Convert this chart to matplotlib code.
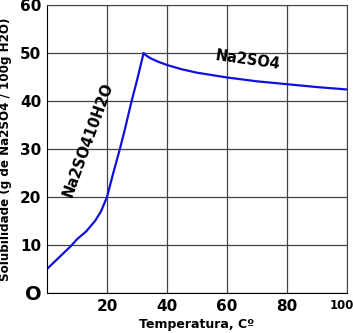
import numpy as np
import matplotlib
matplotlib.use("Agg")
import matplotlib.pyplot as plt
import matplotlib.transforms as mtrans

# curve points
temp = [0, 4, 8, 10, 13, 16, 18, 20, 22, 24.3, 26, 28.2, 30, 32.2, 33, 34.5, 37, 40, 45, 50, 60, 70, 80, 90, 100]
solub = [5, 7.4, 9.8, 11.2, 12.8, 15.0, 17.0, 20.0, 24.8, 30.0, 34.2, 40.0, 44.3, 50.0, 49.5, 48.9, 48.2, 47.5, 46.6, 45.9, 44.9, 44.1, 43.5, 42.9, 42.4]
xticks = [20, 40, 60, 80, 100]
yticks = [0, 10, 20, 30, 40, 50, 60]
ylabels = ["O", "10", "20", "30", "40", "50", "60"]

fig = plt.figure(figsize=(3.53, 3.33), dpi=100)
ax = fig.add_axes([47 / 353, 40 / 333, 300 / 353, 288 / 333])
ax.plot(temp, solub, color="#1010dd", lw=1.6)
ax.set_xlim(0, 100)
ax.set_ylim(0, 60)
ax.set_xticks(xticks)
ax.set_yticks(yticks)
ax.set_yticklabels(ylabels)
ax.grid(True, color="#444444", lw=0.9)
ax.tick_params(length=0, labelsize=11, pad=4)
for lab in ax.get_xticklabels() + ax.get_yticklabels():
    lab.set_fontweight("bold")
ax.get_yticklabels()[0].set_fontsize(14)
last = ax.get_xticklabels()[-1]
last.set_fontsize(8.5)
last.set_transform(last.get_transform() + mtrans.ScaledTranslation(-5 / 100, 0, fig.dpi_scale_trans))
for s in ax.spines.values():
    s.set_color("#444444")
ax.spines["left"].set_color("black")
ax.spines["bottom"].set_color("black")
ax.set_xlabel("Temperatura, Cº", fontsize=9, fontweight="bold", labelpad=3)
ax.set_ylabel("Solubilidade (g de Na2SO4 / 100g H2O)", fontsize=8.6, fontweight="bold", labelpad=6)
ax.text(13.7, 32, "Na2SO410H2O", rotation=70, fontsize=10.5, fontweight="bold", ha="center", va="center")
ax.text(67, 48.5, "Na2SO4", rotation=-8, fontsize=10.5, fontweight="bold", ha="center", va="center")
fig.savefig("out.png", dpi=100)
